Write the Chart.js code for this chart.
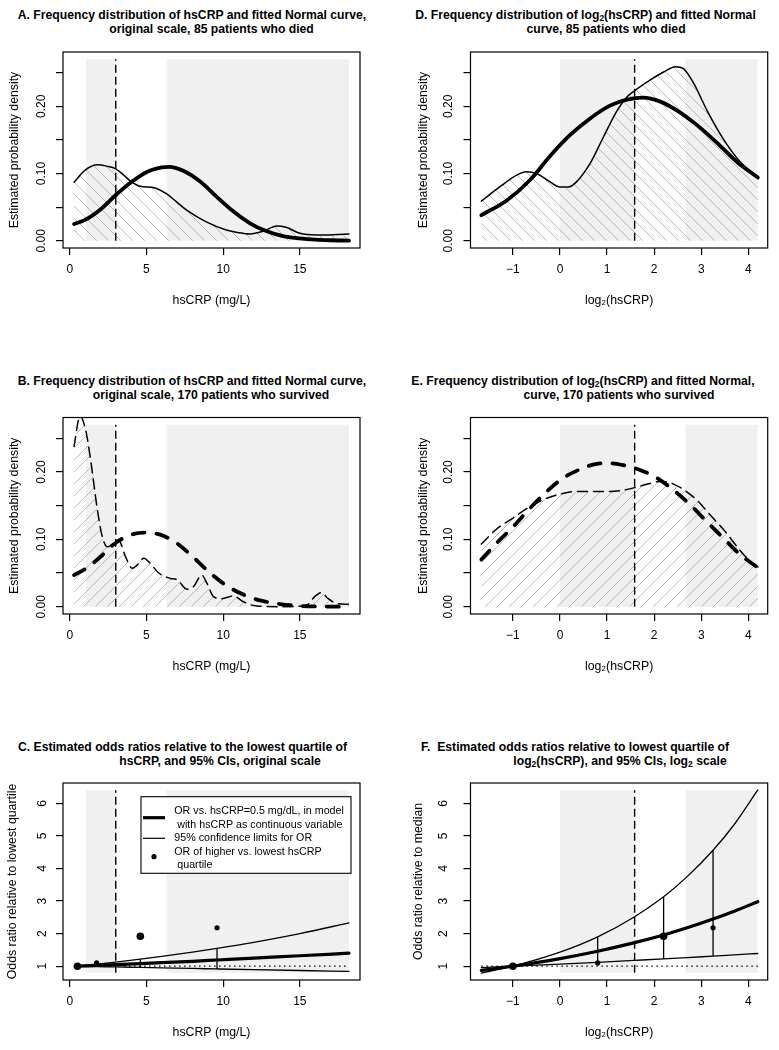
<!DOCTYPE html>
<html>
<head>
<meta charset="utf-8">
<script src="https://cdn.jsdelivr.net/npm/chart.js@4.4.1/dist/chart.umd.min.js"></script>
<style>
  body { margin: 0; background: #fff; width: 779px; height: 1050px; position: relative; overflow: hidden;
         font-family: 'Liberation Sans', Arial, sans-serif; }
  canvas { position: absolute; }
  .t { position: absolute; font-weight: bold; font-size: 12.2px; line-height: 14px; white-space: pre;
       transform: translateX(-50%); color: #000; }
  .t sub { font-size: 8.5px; vertical-align: -2px; line-height: 0; }
</style>
</head>
<body>
<div class="t" style="left:192px;top:8px">A. Frequency distribution of hsCRP and fitted Normal curve,</div>
<div class="t" style="left:211.5px;top:22px">original scale, 85 patients who died</div>
<div class="t" style="left:585.5px;top:8px">D. Frequency distribution of log<sub>2</sub>(hsCRP) and fitted Normal</div>
<div class="t" style="left:606px;top:22px">curve, 85 patients who died</div>
<div class="t" style="left:192px;top:374px">B. Frequency distribution of hsCRP and fitted Normal curve,</div>
<div class="t" style="left:211px;top:388px">original scale, 170 patients who survived</div>
<div class="t" style="left:583px;top:374px">E. Frequency distribution of log<sub>2</sub>(hsCRP) and fitted Normal,</div>
<div class="t" style="left:619px;top:388px">curve, 170 patients who survived</div>
<div class="t" style="left:182.5px;top:739.5px">C. Estimated odds ratios relative to the lowest quartile of</div>
<div class="t" style="left:220px;top:754px">hsCRP, and 95% CIs, original scale</div>
<div class="t" style="left:575px;top:740px">F.  Estimated odds ratios relative to lowest quartile of</div>
<div class="t" style="left:620px;top:754px">log<sub>2</sub>(hsCRP), and 95% CIs, log<sub>2</sub> scale</div>

<canvas id="cA" width="390" height="330" style="left:0;top:0"></canvas>
<canvas id="cD" width="389" height="330" style="left:390px;top:0"></canvas>
<canvas id="cB" width="390" height="360" style="left:0;top:330px"></canvas>
<canvas id="cE" width="389" height="360" style="left:390px;top:330px"></canvas>
<canvas id="cC" width="390" height="360" style="left:0;top:690px"></canvas>
<canvas id="cF" width="389" height="360" style="left:390px;top:690px"></canvas>

<script>
// ticks
const densTicks = [0, 0.05, 0.10, 0.15, 0.20, 0.25];
const densTickLabels = ['0.00', '', '0.10', '', '0.20', ''];
const orTicks = [1, 2, 3, 4, 5, 6];
const orTickLabels = ['1', '2', '3', '4', '5', '6'];
const crpTicks = [0, 5, 10, 15];
const crpTickLabels = ['0', '5', '10', '15'];
const logTicks = [-1, 0, 1, 2, 3, 4];
const logTickLabels = ['\u22121', '0', '1', '2', '3', '4'];

// quartile bands (2nd and 4th quartile shaded) and median
const crpBands = [[1.04, 3.0], [6.3, 18.2]];
const logBands = [[0, 1.585], [2.66, 4.2]];
const crpMedian = 3.0;
const logMedian = 1.585;

// A: died, original scale
const diedKdeX = [0.28, 1.0, 1.8, 2.4, 3.0, 3.5, 4.0, 4.6, 5.5, 6.3, 7.0, 7.6, 8.9, 10.2, 11.0, 11.75, 12.6, 13.5, 14.1, 15.0, 16.1, 17.2, 18.2];
const diedKde = [0.087, 0.105, 0.113, 0.111, 0.107, 0.098, 0.088, 0.081, 0.079, 0.070, 0.057, 0.046, 0.028, 0.016, 0.012, 0.010, 0.014, 0.022, 0.020, 0.011, 0.0085, 0.009, 0.0099];
const diedNormX = [0.28, 1, 2, 3, 4, 5, 6, 6.5, 7.4, 8.5, 9.6, 10.7, 11.75, 12.8, 13.9, 15, 16, 17, 18.2];
const diedNorm = [0.025, 0.031, 0.0465, 0.068, 0.087, 0.102, 0.109, 0.110, 0.104, 0.088, 0.065, 0.043, 0.026, 0.0144, 0.0069, 0.0035, 0.0016, 0.0007, 0.0002];

// B: survived, original scale
const survKdeX = [0.28, 0.67, 1.04, 1.36, 1.8, 2.12, 2.45, 2.88, 3.2, 3.64, 4.07, 4.4, 4.83, 5.26, 5.8, 6.56, 7.0, 7.64, 8.07, 8.6, 8.94, 9.37, 9.91, 10.67, 11.32, 12.19, 13.9, 15.43, 15.97, 16.4, 16.84, 17.38, 18.2];
const survKde = [0.238, 0.283, 0.262, 0.218, 0.144, 0.104, 0.089, 0.094, 0.098, 0.074, 0.057, 0.062, 0.072, 0.064, 0.050, 0.042, 0.040, 0.026, 0.030, 0.047, 0.035, 0.015, 0.012, 0.016, 0.0074, 0.001, 0.0, 0.0025, 0.015, 0.021, 0.012, 0.005, 0.0035];
const survNormX = [0.28, 1.15, 2, 3, 4.18, 5.04, 5.9, 7, 8.07, 9.16, 10.24, 11.32, 12.4, 13.7, 15, 16.5, 18.2];
const survNorm = [0.047, 0.058, 0.074, 0.095, 0.108, 0.110, 0.107, 0.094, 0.073, 0.050, 0.031, 0.018, 0.0094, 0.004, 0.0012, 0.0003, 0.0001];

// D: died, log2 scale
const diedLogKdeX = [-1.67, -1.28, -0.92, -0.71, -0.5, -0.21, 0, 0.18, 0.35, 0.64, 0.92, 1.2, 1.42, 1.6, 1.91, 2.2, 2.45, 2.62, 2.84, 3.12, 3.48, 3.83, 4.2];
const diedLogKde = [0.059, 0.080, 0.0975, 0.1025, 0.100, 0.0876, 0.080, 0.080, 0.0876, 0.115, 0.154, 0.192, 0.214, 0.224, 0.239, 0.251, 0.259, 0.256, 0.234, 0.194, 0.150, 0.117, 0.095];
const diedLogNormX = [-1.67, -1.13, -0.64, -0.21, 0.21, 0.64, 1.06, 1.42, 1.77, 2.13, 2.48, 2.91, 3.33, 3.76, 4.2];
const diedLogNorm = [0.038, 0.060, 0.090, 0.126, 0.157, 0.182, 0.201, 0.210, 0.213, 0.207, 0.194, 0.172, 0.146, 0.117, 0.094];

// E: survived, log2 scale
const survLogKdeX = [-1.67, -1.35, -0.99, -0.64, -0.28, 0, 0.35, 0.71, 1.06, 1.35, 1.6, 1.91, 2.13, 2.41, 2.62, 2.91, 3.19, 3.48, 3.76, 3.97, 4.2];
const survLogKde = [0.093, 0.115, 0.132, 0.1485, 0.161, 0.167, 0.171, 0.171, 0.171, 0.173, 0.177, 0.183, 0.186, 0.182, 0.174, 0.158, 0.136, 0.114, 0.089, 0.072, 0.059];
const survLogNormX = [-1.67, -1.35, -0.99, -0.64, -0.28, 0.07, 0.43, 0.78, 1.06, 1.35, 1.7, 2.06, 2.41, 2.77, 3.12, 3.48, 3.83, 4.2];
const survLogNorm = [0.070, 0.094, 0.119, 0.146, 0.171, 0.191, 0.204, 0.212, 0.213, 0.210, 0.203, 0.191, 0.173, 0.151, 0.126, 0.101, 0.077, 0.058];

// C: odds ratios, original scale
const crpOrX = [0.5, 1.75, 3, 4.6, 6, 8, 9.6, 12, 15, 18.2];
const crpOr = [1.0, 1.024, 1.048, 1.08, 1.11, 1.15, 1.19, 1.25, 1.32, 1.40];
const crpUpper = [1.0, 1.062, 1.127, 1.216, 1.30, 1.43, 1.545, 1.733, 2.0, 2.33];
const crpLower = [1.0, 0.987, 0.976, 0.961, 0.948, 0.93, 0.915, 0.893, 0.867, 0.841];
const crpBarX = [1.75, 4.6, 9.6];
const crpBarLo = [0.987, 0.961, 0.915];
const crpBarHi = [1.062, 1.216, 1.545];
const crpQuartX = [0.5, 1.75, 4.6, 9.6];
const quartOr = [1.0, 1.10, 1.92, 2.18];
const quartDot = [3.8, 2.6, 3.8, 2.6];

// F: odds ratios, log2 scale
const logOrX = [-1.67, -1, 0, 0.8, 1.585, 2.2, 2.7, 3.25, 3.7, 4.2];
const logOr = [0.87, 1.0, 1.234, 1.46, 1.723, 1.96, 2.18, 2.45, 2.69, 2.98];
const logUpper = [0.787, 1.0, 1.43, 1.90, 2.52, 3.13, 3.75, 4.56, 5.35, 6.41];
const logLower = [0.958, 1.0, 1.065, 1.12, 1.178, 1.224, 1.264, 1.31, 1.347, 1.39];
const logBarX = [0.8, 2.2, 3.25];
const logBarLo = [1.12, 1.224, 1.31];
const logBarHi = [1.90, 3.13, 4.56];
const logQuartX = [-1, 0.8, 2.2, 3.25];

const legendText = ['OR vs. hsCRP=0.5 mg/dL, in model', ' with hsCRP as continuous variable',
                    '95% confidence limits for OR', 'OR of higher vs. lowest hsCRP', ' quartile'];

const FONT = "'Liberation Sans', Arial, sans-serif";
const BAND = '#f0f0f0';

const toPts = (xs, ys) => xs.map((x, i) => ({ x: x, y: ys[i] }));

// diagonal hatching like R's density= polygon fill
function hatch(dir) {
    const s = 12;
    const c = document.createElement('canvas');
    c.width = s; c.height = s;
    const g = c.getContext('2d');
    g.strokeStyle = '#a9a9a9';
    g.lineWidth = 0.8;
    g.beginPath();
    if (dir > 0) {          // "/"
        g.moveTo(0, s); g.lineTo(s, 0);
        g.moveTo(-2, 2); g.lineTo(2, -2);
        g.moveTo(s - 2, s + 2); g.lineTo(s + 2, s - 2);
    } else {                // "\"
        g.moveTo(0, 0); g.lineTo(s, s);
        g.moveTo(-2, s - 2); g.lineTo(2, s + 2);
        g.moveTo(s - 2, -2); g.lineTo(s + 2, 2);
    }
    g.stroke();
    return g.createPattern(c, 'repeat');
}

function curve(xs, ys, extra) {
    return Object.assign({
        data: toPts(xs, ys), borderColor: '#000', pointRadius: 0, fill: false,
        cubicInterpolationMode: 'monotone', borderCapStyle: 'round', borderJoinStyle: 'round'
    }, extra);
}

function bandSets(bands, lo, hi, order) {
    return bands.map(b => ({
        data: [{ x: b[0], y: hi }, { x: b[1], y: hi }],
        borderWidth: 0, pointRadius: 0, fill: { value: lo }, backgroundColor: BAND, order: order
    }));
}

function segment(x, lo, hi, extra) {
    return Object.assign({
        data: [{ x: x, y: lo }, { x: x, y: hi }], borderColor: '#000', borderWidth: 1.3,
        pointRadius: 0, fill: false
    }, extra);
}

const boxPlugin = {
    id: 'box',
    afterDatasetsDraw(chart) {
        const a = chart.chartArea, c = chart.ctx;
        c.save();
        c.strokeStyle = '#000';
        c.lineWidth = 1.2;
        c.strokeRect(a.left, a.top, a.right - a.left, a.bottom - a.top);
        c.restore();
    }
};

const legendPlugin = {
    id: 'orLegend',
    afterDraw(chart) {
        const a = chart.chartArea, c = chart.ctx;
        const x0 = a.left + 78, y0 = a.top + 13.7, w = 210, h = 76.6;
        c.save();
        c.fillStyle = '#fff';
        c.fillRect(x0, y0, w, h);
        c.strokeStyle = '#000';
        c.lineWidth = 1.1;
        c.strokeRect(x0, y0, w, h);
        c.lineWidth = 3.2;
        c.beginPath(); c.moveTo(x0 + 2, y0 + 21); c.lineTo(x0 + 24, y0 + 21); c.stroke();
        c.lineWidth = 1.2;
        c.beginPath(); c.moveTo(x0 + 2, y0 + 41.6); c.lineTo(x0 + 24, y0 + 41.6); c.stroke();
        c.fillStyle = '#000';
        c.beginPath(); c.arc(x0 + 13, y0 + 60, 2.6, 0, 2 * Math.PI); c.fill();
        c.font = '10.7px ' + FONT;
        c.textBaseline = 'middle';
        const ys = [14.3, 28.3, 41, 55, 68.3];
        legendText.forEach((t, i) => c.fillText(t, x0 + 33.3, y0 + ys[i]));
        c.restore();
    }
};

function makeChart(id, p) {
    const grid = { drawOnChartArea: false, drawTicks: true, tickLength: 7, color: '#000', lineWidth: 1.2 };
    return new Chart(document.getElementById(id), {
        type: 'line',
        data: { datasets: p.datasets },
        options: {
            responsive: false,
            animation: false,
            events: [],
            layout: { padding: { left: p.L - p.yw, top: p.T, right: p.w - p.R, bottom: p.h - p.B - 59.5 } },
            plugins: { legend: { display: false }, tooltip: { enabled: false } },
            scales: {
                x: {
                    type: 'linear', min: p.xmin, max: p.xmax,
                    afterBuildTicks: s => { s.ticks = p.xt.map(v => ({ value: v })); },
                    afterFit: s => { s.height = 59.5; },
                    ticks: { autoSkip: false, maxRotation: 0, padding: 7.5, color: '#000',
                             font: { size: 12, family: FONT }, callback: (v, i) => p.xl[i] },
                    grid: grid,
                    border: { display: false },
                    title: { display: true, text: p.xTitle, color: '#000', font: { size: 12.3, family: FONT },
                             padding: { top: 0, bottom: 0 } }
                },
                y: {
                    type: 'linear', min: p.ymin, max: p.ymax,
                    afterBuildTicks: s => { s.ticks = p.yt.map(v => ({ value: v })); },
                    afterFit: s => { s.width = p.yw; },
                    ticks: { autoSkip: false, minRotation: 90, maxRotation: 90, crossAlign: 'center',
                             padding: p.ytp, color: '#000', font: { size: 12, family: FONT },
                             callback: (v, i) => p.yl[i] },
                    grid: grid,
                    border: { display: false },
                    title: { display: true, text: p.yTitle, color: '#000', font: { size: 12.3, family: FONT },
                             padding: { top: 0, bottom: 0 } }
                }
            }
        },
        plugins: [boxPlugin].concat(p.extra || [])
    });
}

function densitySets(kdeX, kde, normX, norm, bands, median, hatchDir, dashed) {
    return [
        curve(normX, norm, { borderWidth: 3.8, borderDash: dashed ? [12, 12] : [], order: 0 }),
        segment(median, 0, 0.27, { borderWidth: 1.4, borderDash: [8, 4], order: 1 }),
        curve(kdeX, kde, { borderWidth: 1.5, borderDash: dashed ? [10, 6] : [], fill: 'origin',
                           backgroundColor: hatch(hatchDir), order: 2 })
    ].concat(bandSets(bands, 0, 0.27, 3));
}

function orSets(orX, or, upper, lower, barX, barLo, barHi, qX, bands, median, xFrom, xTo) {
    return [
        { data: toPts(qX, quartOr), showLine: false, pointRadius: quartDot, pointBackgroundColor: '#000',
          pointBorderWidth: 0, order: 0 },
        curve(orX, or, { borderWidth: 3.2, order: 1 }),
        curve(orX, upper, { borderWidth: 1.3, order: 2 }),
        curve(orX, lower, { borderWidth: 1.3, order: 2 })
    ].concat(barX.map((x, i) => segment(x, barLo[i], barHi[i], { order: 2 })))
     .concat([
        { data: [{ x: xFrom, y: 1 }, { x: xTo, y: 1 }], borderColor: '#000', borderWidth: 1.3,
          borderDash: [1.5, 3.5], pointRadius: 0, fill: false, order: 3 },
        segment(median, 0.8, 6.4, { borderWidth: 1.4, borderDash: [8, 4], order: 3 })
     ])
     .concat(bandSets(bands, 0.8, 6.4, 4));
}

const densY = { ymin: -0.0108, ymax: 0.2808, yt: densTicks, yl: densTickLabels, yTitle: 'Estimated probability density' };
const crpX = { xmin: -0.44, xmax: 18.92, xt: crpTicks, xl: crpTickLabels, xTitle: 'hsCRP (mg/L)' };
const logX = { xmin: -1.90, xmax: 4.41, xt: logTicks, xl: logTickLabels, xTitle: 'log\u2082(hsCRP)' };
const orY = { ymin: 0.576, ymax: 6.624, yt: orTicks, yl: orTickLabels };

makeChart('cA', Object.assign({ w: 390, h: 330, L: 63, T: 52, R: 360, B: 248, yw: 55.5, ytp: 2.5,
    datasets: densitySets(diedKdeX, diedKde, diedNormX, diedNorm, crpBands, crpMedian, -1, false) }, densY, crpX));
makeChart('cD', Object.assign({ w: 389, h: 330, L: 80.5, T: 52, R: 377.7, B: 248, yw: 54.7, ytp: 3,
    datasets: densitySets(diedLogKdeX, diedLogKde, diedLogNormX, diedLogNorm, logBands, logMedian, -1, false) }, densY, logX));
makeChart('cB', Object.assign({ w: 390, h: 360, L: 63, T: 87.5, R: 360, B: 284, yw: 55.5, ytp: 2.5,
    datasets: densitySets(survKdeX, survKde, survNormX, survNorm, crpBands, crpMedian, 1, true) }, densY, crpX));
makeChart('cE', Object.assign({ w: 389, h: 360, L: 80.5, T: 87.5, R: 377.7, B: 284, yw: 54.7, ytp: 3,
    datasets: densitySets(survLogKdeX, survLogKde, survLogNormX, survLogNorm, logBands, logMedian, 1, true) }, densY, logX));
makeChart('cC', Object.assign({ w: 390, h: 360, L: 63, T: 93, R: 360, B: 290, yw: 57.8, ytp: 9.8,
    yTitle: 'Odds ratio relative to lowest quartile', extra: [legendPlugin],
    datasets: orSets(crpOrX, crpOr, crpUpper, crpLower, crpBarX, crpBarLo, crpBarHi, crpQuartX, crpBands, crpMedian, 0.28, 18.2) },
    orY, crpX));
makeChart('cF', Object.assign({ w: 389, h: 360, L: 80.5, T: 93, R: 377.7, B: 290, yw: 59, ytp: 16,
    yTitle: 'Odds ratio relative to median',
    datasets: orSets(logOrX, logOr, logUpper, logLower, logBarX, logBarLo, logBarHi, logQuartX, logBands, logMedian, -1.67, 4.2) },
    orY, logX));
</script>
</body>
</html>
